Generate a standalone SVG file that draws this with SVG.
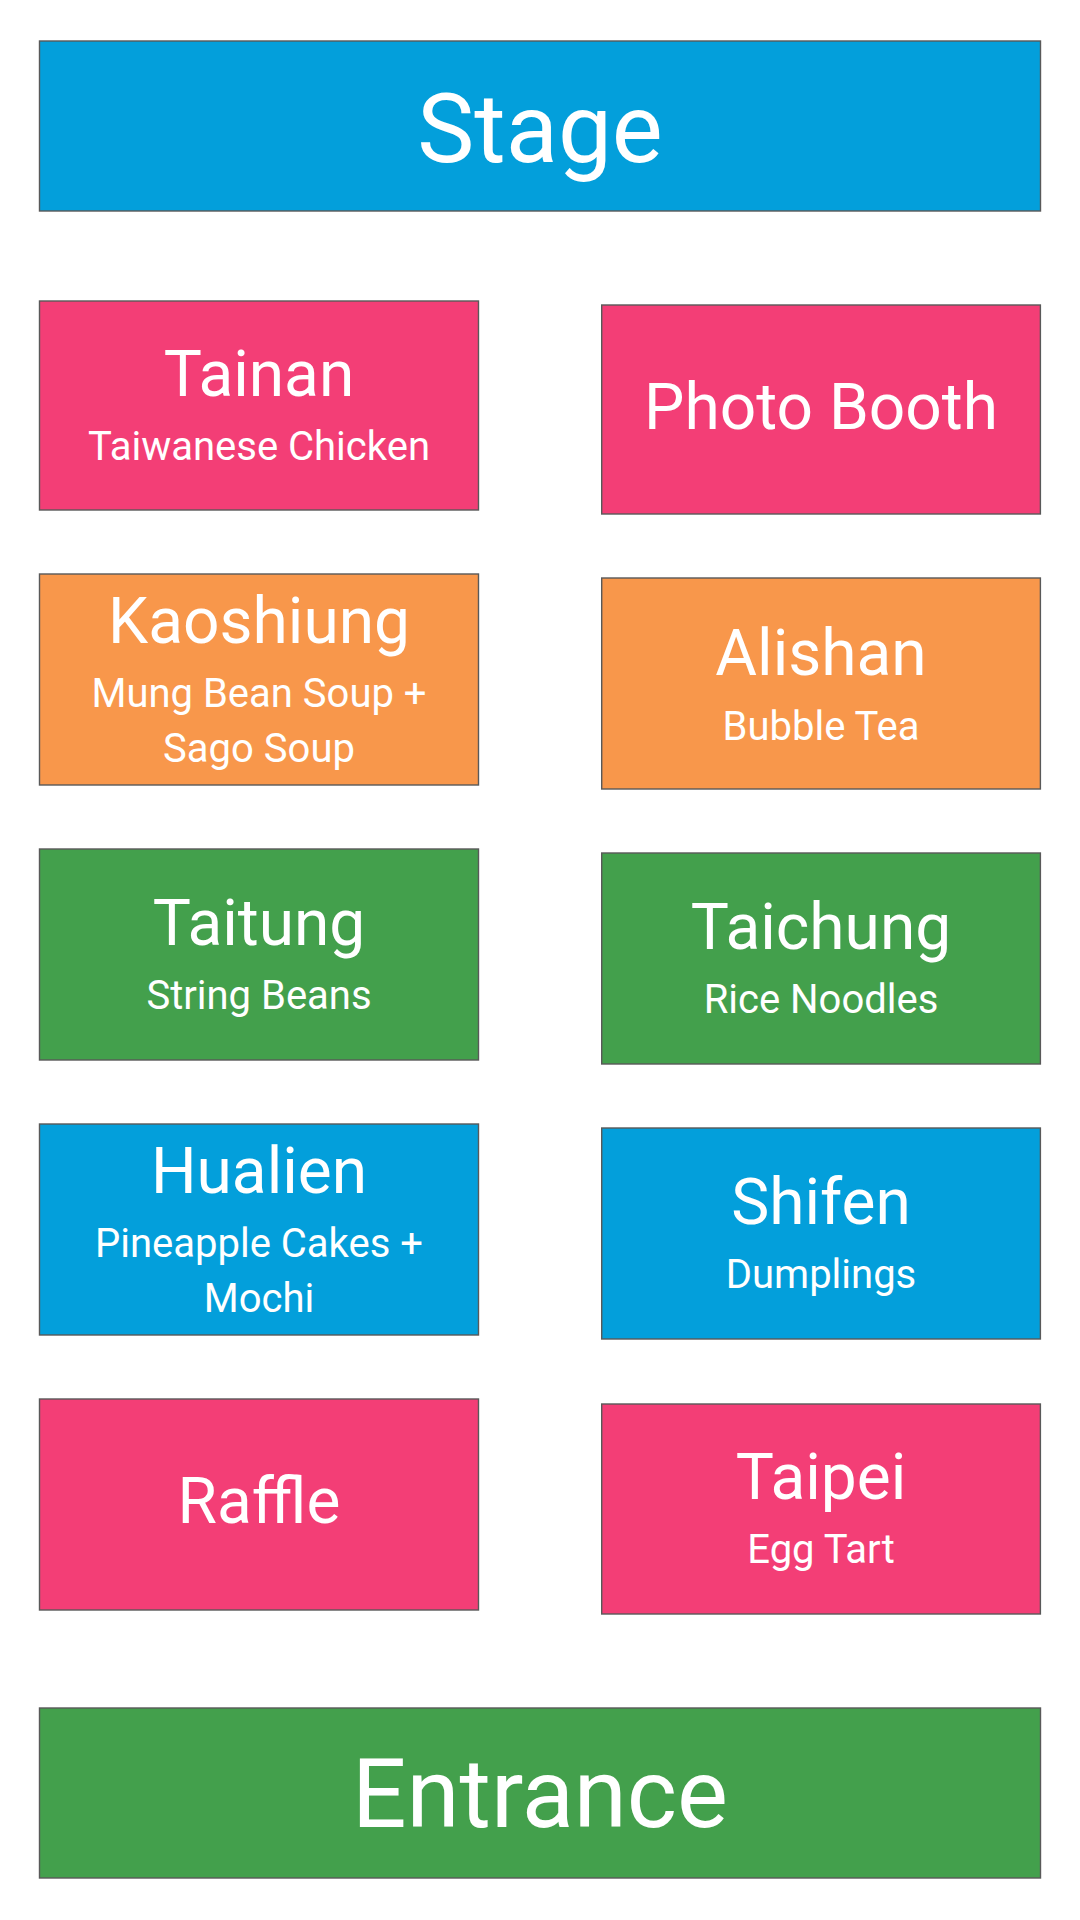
<svg xmlns="http://www.w3.org/2000/svg" width="1080" height="1920" viewBox="0 0 1080 1920">
<style>
rect.b{stroke:#595959;stroke-width:1.4}
.blue{fill:#039FDB}
.pink{fill:#F33E76}
.orange{fill:#F8974B}
.green{fill:#43A04C}
text{font-family:Roboto,"Liberation Sans",sans-serif;fill:#FFFFFF;text-anchor:middle}
.big{font-size:96px}
.t{font-size:64px}
.s{font-size:40px}
</style>
<rect width="1080" height="1920" fill="#FFFFFF"/>
<g id="stage"><rect class="b blue" x="39.5" y="41" width="1001" height="170"/><text class="big" x="540" y="162">Stage</text></g>
<g id="tainan"><rect class="b pink" x="39.5" y="301" width="439" height="209"/><text class="t" x="259" y="396">Tainan</text><text class="s" x="259" y="460">Taiwanese Chicken</text></g>
<g id="photo-booth"><rect class="b pink" x="601.7" y="305" width="438.7" height="209"/><text class="t" x="821" y="429">Photo Booth</text></g>
<g id="kaoshiung"><rect class="b orange" x="39.5" y="574" width="439" height="211"/><text class="t" x="259" y="643">Kaoshiung</text><text class="s" x="259" y="707">Mung Bean Soup +</text><text class="s" x="259" y="762">Sago Soup</text></g>
<g id="alishan"><rect class="b orange" x="601.7" y="578" width="438.7" height="211"/><text class="t" x="821" y="675">Alishan</text><text class="s" x="821" y="740">Bubble Tea</text></g>
<g id="taitung"><rect class="b green" x="39.5" y="849" width="439" height="211"/><text class="t" x="259" y="945">Taitung</text><text class="s" x="259" y="1009">String Beans</text></g>
<g id="taichung"><rect class="b green" x="601.7" y="853" width="438.7" height="211"/><text class="t" x="821" y="949">Taichung</text><text class="s" x="821" y="1013">Rice Noodles</text></g>
<g id="hualien"><rect class="b blue" x="39.5" y="1124" width="439" height="211"/><text class="t" x="259" y="1193">Hualien</text><text class="s" x="259" y="1257">Pineapple Cakes +</text><text class="s" x="259" y="1312">Mochi</text></g>
<g id="shifen"><rect class="b blue" x="601.7" y="1128" width="438.7" height="211"/><text class="t" x="821" y="1224">Shifen</text><text class="s" x="821" y="1288">Dumplings</text></g>
<g id="raffle"><rect class="b pink" x="39.5" y="1399" width="439" height="211"/><text class="t" x="259" y="1523">Raffle</text></g>
<g id="taipei"><rect class="b pink" x="601.7" y="1404" width="438.7" height="210"/><text class="t" x="821" y="1499">Taipei</text><text class="s" x="821" y="1563">Egg Tart</text></g>
<g id="entrance"><rect class="b green" x="39.5" y="1708" width="1001" height="170"/><text class="big" x="540" y="1827">Entrance</text></g>
<g id="connectors"/>
</svg>
